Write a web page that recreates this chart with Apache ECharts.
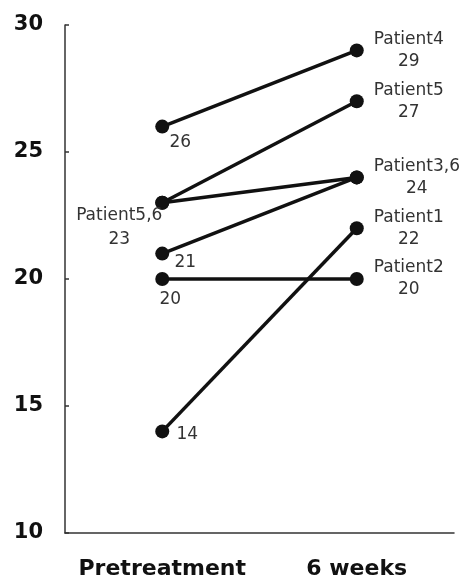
<!DOCTYPE html>
<html>
<head>
<meta charset="utf-8">
<script src="https://cdn.jsdelivr.net/npm/echarts@6/dist/echarts.min.js"></script>
<style>
html,body{margin:0;padding:0;background:#fff;}
#chart{width:468px;height:582px;}
</style>
</head>
<body>
<div id="chart"></div>
<script>
// ---- data ----
var categories = ['Pretreatment', '6 weeks'];
var patients = ['Patient1', 'Patient2', 'Patient3', 'Patient4', 'Patient5', 'Patient6'];
var pretreatment = [14, 20, 21, 26, 23, 23];
var sixWeeks = [22, 20, 24, 29, 27, 24];
var yTicks = [10, 15, 20, 25, 30];

// label offsets for the pretreatment points (style, per patient)
var preOffsets = [[25, 3], [8, 21], [23, 9], [18, 16], [-43, 25], null];
var labelFont = 'DejaVu Sans';
var labelColor = '#333';

function groupName(values, idx) {
  // names of all patients sharing this value, e.g. "Patient3,6"
  var nums = [];
  for (var i = 0; i < values.length; i++) {
    if (values[i] === values[idx]) nums.push(patients[i].replace('Patient', ''));
  }
  return { first: values.indexOf(values[idx]) === idx, shared: nums.length > 1, text: 'Patient' + nums.join(',') };
}

var series = patients.map(function (name, i) {
  var preG = groupName(pretreatment, i);
  var postG = groupName(sixWeeks, i);
  var preLabel = { show: false };
  if (preG.first) {
    preLabel = {
      show: true, position: 'inside', align: 'center', verticalAlign: 'middle',
      offset: preOffsets[i], fontFamily: labelFont, fontSize: 17, color: labelColor, lineHeight: 24,
      formatter: preG.shared ? preG.text + '\n' + pretreatment[i] : String(pretreatment[i])
    };
  }
  var postLabel = { show: false };
  if (postG.first) {
    postLabel = {
      show: true, position: 'inside', align: 'left', verticalAlign: 'middle',
      offset: [17, 0],
      formatter: '{c|' + postG.text + '}\n{c|' + sixWeeks[i] + '}',
      rich: { c: { align: 'center', fontFamily: labelFont, fontSize: 17, color: labelColor, lineHeight: 22 } }
    };
  }
  return {
    name: name,
    type: 'line',
    symbol: 'circle',
    symbolSize: 14,
    itemStyle: { color: '#111' },
    lineStyle: { color: '#111', width: 3.5 },
    animation: false,
    data: [
      { value: pretreatment[i], label: preLabel },
      { value: sixWeeks[i], label: postLabel }
    ]
  };
});

var chart = echarts.init(document.getElementById('chart'), null, { renderer: 'canvas' });
chart.setOption({
  backgroundColor: '#fff',
  animation: false,
  grid: { left: 65, right: 14, top: 25, bottom: 49 },
  xAxis: {
    type: 'category',
    data: categories,
    boundaryGap: true,
    axisLine: { show: true, lineStyle: { color: '#333', width: 1.5 } },
    axisTick: { show: false },
    axisLabel: { interval: 0, hideOverlap: false, fontFamily: labelFont, fontWeight: 'bold', fontSize: 22, color: '#111', margin: 25 },
    splitLine: { show: false }
  },
  yAxis: {
    type: 'value',
    min: yTicks[0],
    max: yTicks[yTicks.length - 1],
    interval: yTicks[1] - yTicks[0],
    axisLine: { show: true, lineStyle: { color: '#333', width: 1.5 } },
    axisTick: { show: true, inside: true, length: 4, lineStyle: { color: '#333', width: 1.5 } },
    axisLabel: { fontFamily: labelFont, fontWeight: 'bold', fontSize: 21, color: '#111', margin: 22 },
    splitLine: { show: false }
  },
  series: series
});
</script>
</body>
</html>
